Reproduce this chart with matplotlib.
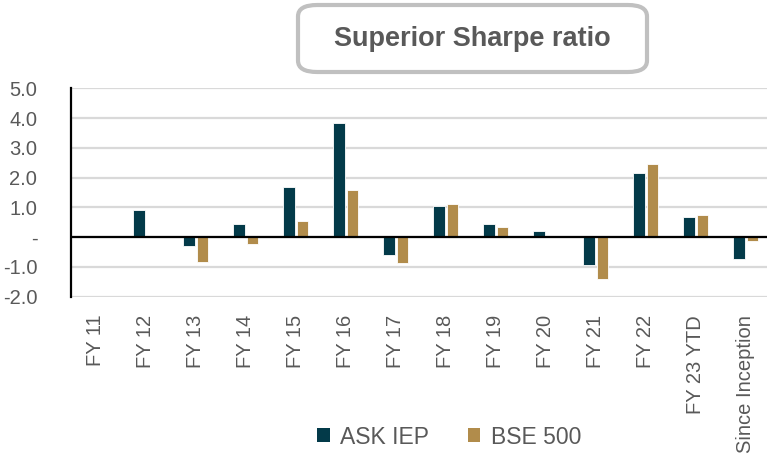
"""
Superior Sharpe ratio bar chart (ASK IEP vs BSE 500)
"""
import matplotlib
matplotlib.use('Agg')
import matplotlib.pyplot as plt
from matplotlib.patches import FancyBboxPatch, Patch
import numpy as np

# data
categories = ['FY 11', 'FY 12', 'FY 13', 'FY 14', 'FY 15', 'FY 16', 'FY 17',
              'FY 18', 'FY 19', 'FY 20', 'FY 21', 'FY 22', 'FY 23 YTD',
              'Since Inception']
ask_iep = [0.0, 0.90, -0.30, 0.45, 1.69, 3.84, -0.61,
           1.06, 0.45, 0.20, -0.95, 2.17, 0.69, -0.75]
bse_500 = [0.0, 0.02, -0.84, -0.22, 0.53, 1.60, -0.86,
           1.13, 0.35, 0.05, -1.42, 2.45, 0.76, -0.12]
y_ticks = [5, 4, 3, 2, 1, 0, -1, -2]
series_names = ['ASK IEP', 'BSE 500']

# colours
ask_color = '#033a49'
bse_color = '#b18c4b'
text_color = '#595959'
grid_color = '#d9d9d9'

plt.rcParams['font.family'] = ['Liberation Sans', 'DejaVu Sans']

fig = plt.figure(figsize=(7.67, 4.55), dpi=100)
W, H = 767, 455
ax = fig.add_axes([70.7 / W, (H - 296.7) / H, 700 / W, 208.4 / H])

x = np.arange(len(categories))
bw = 0.23
off = 0.135
ax.bar(x - off, ask_iep, bw, color=ask_color, edgecolor='white', linewidth=0.6, zorder=3)
ax.bar(x + off, bse_500, bw, color=bse_color, edgecolor='white', linewidth=0.6, zorder=3)

ax.set_xlim(-0.5, len(categories) - 0.5)
ax.set_ylim(-2, 5)

# gridlines and zero line
ax.set_axisbelow(True)
ax.yaxis.grid(True, color=grid_color, linewidth=1.6)
ax.axhline(0, color='black', linewidth=1.6, zorder=4)

for s in ['top', 'right', 'bottom']:
    ax.spines[s].set_visible(False)
ax.spines['left'].set_color('black')
ax.spines['left'].set_linewidth(1.6)
ax.spines['left'].set_zorder(5)

ax.set_yticks(y_ticks)
ax.set_yticklabels(['-' if t == 0 else f'{t:.1f}' for t in y_ticks])
ax.set_xticks(x)
ax.set_xticklabels(categories, rotation=90, va='top', ha='center')
ax.tick_params(axis='y', length=0, pad=24, labelsize=14.5, labelcolor=text_color)
ax.tick_params(axis='x', length=0, pad=13, labelsize=14.5, labelcolor=text_color)

# legend at the bottom
handles = [Patch(facecolor=ask_color), Patch(facecolor=bse_color)]
fig.legend(handles, series_names, loc='center', bbox_to_anchor=(449 / W, 1 - 437 / H),
           ncol=2, frameon=False, fontsize=16.5, labelcolor=text_color,
           handlelength=0.55, handleheight=0.55, handletextpad=0.45,
           columnspacing=1.7, borderpad=0)

# title box
box = FancyBboxPatch((298 / W, 1 - 72 / H), 349 / W, 67 / H,
                     boxstyle='round,pad=0,rounding_size=0.025',
                     transform=fig.transFigure, facecolor='white',
                     edgecolor='#c0c0c0', linewidth=3)
fig.patches.append(box)
fig.text(472 / W, 1 - 39 / H, 'Superior Sharpe ratio', ha='center', va='center',
         fontsize=19.5, fontweight='bold', color=text_color)

fig.savefig('out.png', dpi=100)
